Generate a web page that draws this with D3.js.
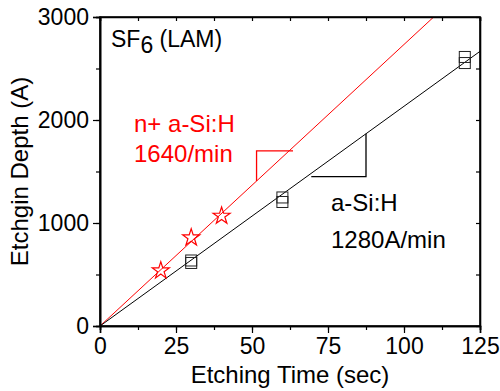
<!DOCTYPE html>
<html>
<head>
<meta charset="utf-8">
<script src="https://cdn.jsdelivr.net/npm/d3@7"></script>
<style>
  body { margin: 0; background: #fff; }
  svg text { font-family: "Liberation Sans", Arial, sans-serif; }
</style>
</head>
<body>
<div id="chart"></div>
<script>
// measured points (sec, Angstrom)
const starTime = [20, 30, 40];
const starDepth = [537, 857, 1068];
const squareTime = [30, 30, 60, 60, 120, 120];
const squareDepth = [612, 636, 1204, 1248, 2553, 2612];
// fitted etch rates (A/min)
const rateNplus = 1640;
const rateAsi = 1280;
const xTicks = [0, 25, 50, 75, 100, 125];
const yTicks = [0, 1000, 2000, 3000];

const width = 500, height = 391;
const margin = {top: 17, right: 20, bottom: 65, left: 100};
const fs = 23;

const svg = d3.select('#chart')
    .append('svg')
    .attr('width', width)
    .attr('height', height);

const x = d3.scaleLinear().domain([0, 125]).range([margin.left, width - margin.right]);
const y = d3.scaleLinear().domain([0, 3000]).range([height - margin.bottom, margin.top]);

const plot = svg.append('g');

// clip so fit lines stop at the frame
svg.append('clipPath').attr('id', 'clip')
    .append('rect')
    .attr('x', x(0)).attr('y', y(3000))
    .attr('width', x(125) - x(0)).attr('height', y(0) - y(3000));

const fit = (rate) => [[0, 0], [125, rate / 60 * 125]];
const line = d3.line().x(d => x(d[0])).y(d => y(d[1]));

plot.append('path')
    .attr('d', line(fit(rateNplus)))
    .attr('clip-path', 'url(#clip)')
    .attr('stroke', 'red').attr('stroke-width', 1).attr('fill', 'none');

plot.append('path')
    .attr('d', line(fit(rateAsi)))
    .attr('clip-path', 'url(#clip)')
    .attr('stroke', 'black').attr('stroke-width', 1).attr('fill', 'none');

// slope triangles
plot.append('path')
    .attr('d', line([[51.5, rateNplus / 60 * 51.5], [51.5, 1700], [63.5, 1700]]))
    .attr('stroke', 'red').attr('stroke-width', 1.3).attr('fill', 'none');

plot.append('path')
    .attr('d', line([[69.5, 1450], [87.5, 1450], [87.5, rateAsi / 60 * 87.5]]))
    .attr('stroke', 'black').attr('stroke-width', 1.3).attr('fill', 'none');

// markers
const star = d3.symbol().type(d3.symbolStar).size(90);
plot.selectAll('.star')
    .data(starTime.map((t, i) => [t, starDepth[i]]))
    .enter().append('path')
    .attr('class', 'star')
    .attr('d', star)
    .attr('transform', d => `translate(${x(d[0])},${y(d[1])})`)
    .attr('fill', 'none').attr('stroke', 'red').attr('stroke-width', 1.2);

const sq = 11;
plot.selectAll('.sq')
    .data(squareTime.map((t, i) => [t, squareDepth[i]]))
    .enter().append('rect')
    .attr('class', 'sq')
    .attr('x', d => x(d[0]) - sq / 2)
    .attr('y', d => y(d[1]) - sq / 2)
    .attr('width', sq).attr('height', sq)
    .attr('fill', 'none').attr('stroke', '#222').attr('stroke-width', 1);

// axes
const xMinor = d3.range(0, 126, 12.5);
const yMinor = d3.range(0, 3001, 500);

svg.append('g')
    .attr('transform', `translate(0,${y(0)})`)
    .call(d3.axisBottom(x).tickValues(xMinor).tickFormat('').tickSize(4));
svg.append('g')
    .attr('transform', `translate(0,${y(0)})`)
    .call(d3.axisBottom(x).tickValues(xTicks).tickSize(7).tickPadding(5));
svg.append('g')
    .attr('transform', `translate(0,${y(3000)})`)
    .call(d3.axisBottom(x).tickValues(xMinor).tickFormat('').tickSize(4));
svg.append('g')
    .attr('transform', `translate(${x(0)},0)`)
    .call(d3.axisLeft(y).tickValues(yMinor).tickFormat('').tickSize(4));
svg.append('g')
    .attr('transform', `translate(${x(0)},0)`)
    .call(d3.axisLeft(y).tickValues(yTicks).tickFormat(d3.format('d')).tickSize(7).tickPadding(4));
svg.append('g')
    .attr('transform', `translate(${x(125)},0)`)
    .call(d3.axisLeft(y).tickValues(yMinor).tickFormat('').tickSizeInner(4).tickSizeOuter(0));

svg.selectAll('.domain').attr('stroke', 'black').attr('stroke-width', 1.6);
svg.selectAll('.tick line').attr('stroke', 'black').attr('stroke-width', 1.2);
svg.selectAll('.tick text').attr('font-size', fs).attr('fill', 'black')
    .attr('font-family', '"Liberation Sans", Arial, sans-serif');

// frame
svg.append('rect')
    .attr('x', x(0)).attr('y', y(3000))
    .attr('width', x(125) - x(0)).attr('height', y(0) - y(3000))
    .attr('fill', 'none').attr('stroke', 'black').attr('stroke-width', 1.6);

// axis titles
svg.append('text')
    .text('Etching Time (sec)')
    .attr('x', (x(0) + x(125)) / 2).attr('y', 383)
    .attr('text-anchor', 'middle').attr('font-size', 24);

svg.append('text')
    .text('Etchgin Depth (A)')
    .attr('transform', `translate(28,${(y(0) + y(3000)) / 2}) rotate(-90)`)
    .attr('text-anchor', 'middle').attr('font-size', 24);

// annotations
const sf = svg.append('text').attr('x', 111).attr('y', 47).attr('font-size', 23);
sf.append('tspan').text('SF');
sf.append('tspan').text('6').attr('dy', 6);
sf.append('tspan').text(' (LAM)').attr('dy', -6);

svg.append('text').text('n+ a-Si:H')
    .attr('x', 134).attr('y', 132).attr('font-size', 24).attr('fill', 'red');
svg.append('text').text('1640/min')
    .attr('x', 134).attr('y', 162).attr('font-size', 24).attr('fill', 'red');

svg.append('text').text('a-Si:H')
    .attr('x', 331).attr('y', 211).attr('font-size', 24).attr('fill', 'black');
svg.append('text').text('1280A/min')
    .attr('x', 331).attr('y', 248).attr('font-size', 24).attr('fill', 'black');
</script>
</body>
</html>
